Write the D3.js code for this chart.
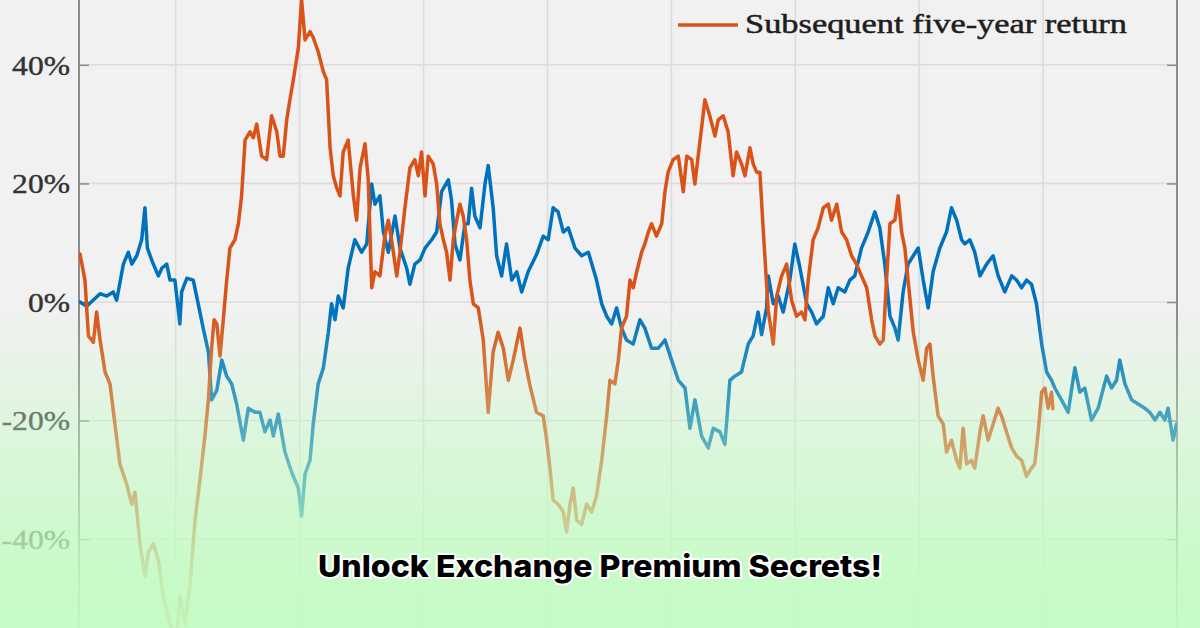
<!DOCTYPE html>
<html><head><meta charset="utf-8">
<script src="https://cdn.jsdelivr.net/npm/d3@7"></script>
<style>html,body{margin:0;padding:0;background:#f1f1f1;}svg{display:block}</style>
</head><body>
<svg id="chart" width="1200" height="628"></svg>
<script>
// ---- data ----
const blueDates = [1981.14,1981.41,1981.95,1982.22,1982.48,1982.62,1982.89,1983.09,1983.23,1983.43,1983.63,1983.76,1983.86,1984.03,1984.30,1984.44,1984.64,1984.77,1984.97,1985.17,1985.24,1985.45,1985.71,1985.91,1986.11,1986.32,1986.45,1986.66,1986.86,1987.06,1987.26,1987.46,1987.73,1987.93,1988.20,1988.40,1988.60,1988.81,1988.94,1989.14,1989.41,1989.68,1989.95,1990.08,1990.22,1990.42,1990.55,1990.75,1990.96,1991.16,1991.29,1991.43,1991.56,1991.76,1991.96,1992.23,1992.50,1992.71,1992.91,1993.04,1993.24,1993.38,1993.58,1993.85,1994.05,1994.32,1994.45,1994.65,1994.86,1995.06,1995.33,1995.53,1995.73,1996.00,1996.13,1996.27,1996.47,1996.67,1996.80,1996.94,1997.07,1997.28,1997.48,1997.61,1997.81,1997.95,1998.15,1998.35,1998.56,1998.76,1998.96,1999.22,1999.56,1999.83,2000.03,2000.23,2000.43,2000.64,2000.84,2001.11,2001.38,2001.65,2001.98,2002.19,2002.39,2002.59,2002.79,2002.99,2003.19,2003.46,2003.73,2003.93,2004.20,2004.47,2004.74,2005.01,2005.28,2005.55,2005.75,2005.95,2006.22,2006.49,2006.69,2006.96,2007.16,2007.36,2007.56,2007.83,2008.10,2008.30,2008.50,2008.64,2008.84,2008.91,2009.11,2009.31,2009.51,2009.78,2009.98,2010.19,2010.46,2010.66,2010.86,2011.13,2011.33,2011.53,2011.73,2012.00,2012.20,2012.40,2012.67,2012.94,2013.21,2013.41,2013.61,2013.82,2014.02,2014.15,2014.35,2014.55,2014.76,2014.96,2015.16,2015.36,2015.56,2015.83,2016.10,2016.30,2016.51,2016.71,2016.84,2017.04,2017.24,2017.45,2017.72,2017.98,2018.18,2018.45,2018.73,2018.93,2019.13,2019.33,2019.53,2019.73,2019.94,2020.14,2020.34,2020.47,2020.74,2021.01,2021.28,2021.48,2021.68,2021.95,2022.22,2022.56,2022.76,2022.96,2023.09,2023.30,2023.57,2023.83,2024.10,2024.30,2024.51,2024.71,2024.91,2025.04,2025.24,2025.38];
const blueValues = [0,-0.7,1.4,1.0,1.7,0.3,6.4,8.4,6.4,7.8,10.5,15.9,9.1,7.1,4.4,5.7,6.4,3.7,3.7,-3.7,1.7,4.0,3.7,-0.3,-4.4,-8.4,-16.5,-14.9,-9.8,-12.5,-13.8,-17.2,-23.3,-17.9,-18.6,-18.6,-21.9,-19.9,-22.6,-18.9,-25.3,-28.7,-31.4,-36.1,-29.0,-26.7,-20.6,-13.8,-11.1,-5.1,-0.3,-3.0,1.0,-1.0,5.7,10.5,8.4,9.8,19.9,16.5,17.9,11.8,8.4,14.5,9.1,5.7,3.0,6.4,7.1,9.1,10.5,11.8,18.6,20.6,17.2,9.8,7.1,13.2,13.2,19.2,14.5,12.5,19.9,23.0,15.9,7.8,4.4,9.8,3.7,5.1,1.7,5.1,8.0,11.1,10.5,15.9,15.2,11.8,12.5,9.1,7.8,8.4,3.7,-0.3,-2.4,-3.7,-1.0,-4.4,-6.4,-7.1,-3.0,-4.4,-7.8,-7.8,-6.4,-9.8,-13.2,-14.5,-21.3,-16.5,-22.6,-24.6,-21.3,-21.9,-24.0,-13.2,-12.5,-11.8,-7.1,-5.7,-1.7,-5.5,-1.0,4.4,-0.3,1.0,-1.7,3.7,9.8,5.7,-0.3,-1.7,-3.7,-2.4,2.4,-0.3,2.4,1.7,3.7,4.4,9.1,11.8,15.2,12.5,6.4,-2.4,-4.4,-6.4,1.7,6.4,7.8,9.1,3.7,-1.0,5.1,9.1,11.8,15.9,13.8,10.5,9.8,10.5,8.4,4.4,6.4,7.8,4.5,1.7,4.4,3.7,2.4,3.7,3.0,-0.3,-7.1,-11.8,-13.2,-14.5,-16.5,-18.6,-11.1,-15.2,-14.5,-19.9,-17.9,-12.5,-14.5,-13.2,-9.8,-13.8,-16.5,-17.2,-17.9,-18.6,-19.9,-18.6,-19.9,-17.9,-23.3,-20.6];

const orangeDates = [1981.14,1981.34,1981.48,1981.68,1981.81,1981.95,1982.15,1982.35,1982.55,1982.75,1983.02,1983.23,1983.36,1983.56,1983.76,1983.90,1984.10,1984.30,1984.50,1984.77,1985.04,1985.17,1985.38,1985.58,1985.78,1985.98,1986.18,1986.32,1986.45,1986.55,1986.66,1986.79,1986.92,1987.06,1987.19,1987.39,1987.53,1987.66,1987.80,1988.00,1988.13,1988.27,1988.47,1988.67,1988.87,1989.08,1989.21,1989.34,1989.48,1989.61,1989.75,1989.95,1990.08,1990.22,1990.42,1990.55,1990.75,1990.96,1991.09,1991.23,1991.36,1991.50,1991.63,1991.76,1991.96,1992.17,1992.30,1992.44,1992.64,1992.77,1992.91,1993.04,1993.24,1993.44,1993.58,1993.71,1993.92,1994.05,1994.25,1994.45,1994.65,1994.79,1994.92,1995.06,1995.19,1995.39,1995.53,1995.66,1995.80,1995.93,1996.07,1996.20,1996.34,1996.47,1996.60,1996.74,1996.87,1997.01,1997.21,1997.41,1997.61,1997.81,1998.01,1998.22,1998.42,1998.62,1998.89,1999.09,1999.29,1999.56,1999.83,1999.97,2000.10,2000.23,2000.43,2000.64,2000.77,2000.91,2001.04,2001.18,2001.38,2001.58,2001.78,2001.98,2002.19,2002.39,2002.52,2002.72,2002.86,2002.99,2003.19,2003.33,2003.46,2003.60,2003.80,2003.93,2004.07,2004.20,2004.40,2004.61,2004.74,2004.87,2005.07,2005.28,2005.48,2005.62,2005.82,2005.95,2006.08,2006.22,2006.35,2006.55,2006.76,2006.89,2007.09,2007.29,2007.49,2007.63,2007.83,2007.97,2008.17,2008.30,2008.44,2008.57,2008.73,2008.91,2009.11,2009.25,2009.45,2009.65,2009.85,2010.05,2010.25,2010.39,2010.52,2010.72,2010.92,2011.13,2011.33,2011.46,2011.67,2011.87,2012.07,2012.27,2012.47,2012.67,2012.88,2013.08,2013.21,2013.41,2013.55,2013.68,2013.82,2014.02,2014.15,2014.29,2014.42,2014.55,2014.76,2014.96,2015.16,2015.30,2015.43,2015.56,2015.76,2015.97,2016.10,2016.30,2016.51,2016.64,2016.77,2016.91,2017.11,2017.24,2017.45,2017.58,2017.78,2017.98,2018.18,2018.32,2018.52,2018.73,2018.93,2019.13,2019.33,2019.53,2019.66,2019.80,2019.94,2020.07,2020.20,2020.34,2020.39];
const orangeValues = [8.1,3.7,-5.7,-6.8,-1.7,-6.4,-11.8,-13.8,-20.6,-27.3,-30.7,-34.1,-32.1,-40.8,-46.2,-42.2,-40.8,-43.5,-49.6,-54.3,-57.0,-49.6,-54.3,-47.6,-36.8,-30.0,-22.6,-16.5,-7.8,-3.0,-3.7,-9.1,-3.0,3.7,9.1,10.5,13.2,17.9,27.3,28.7,27.7,30.0,24.6,24.0,31.4,28.7,24.6,24.6,30.7,34.1,37.5,42.9,51.0,44.2,45.6,44.6,42.2,38.8,37.5,26.0,21.3,19.2,17.9,25.3,27.3,17.9,13.8,22.6,26.7,20.6,2.4,5.1,4.4,11.1,13.8,10.5,4.4,8.4,15.9,22.6,24.0,21.3,25.3,17.9,24.6,23.3,19.9,13.2,10.5,8.4,3.7,10.5,13.8,16.5,14.5,10.5,3.7,-0.3,-1.0,-6.4,-18.6,-8.4,-5.1,-7.8,-13.2,-9.8,-4.4,-9.8,-14.0,-18.6,-19.2,-23.3,-28.0,-33.4,-34.1,-35.4,-38.8,-34.1,-31.4,-36.8,-37.5,-34.1,-35.4,-32.7,-26.7,-19.2,-13.2,-13.8,-9.8,-4.4,-2.4,3.7,2.4,5.1,8.4,9.8,11.8,13.2,11.1,13.2,18.6,21.9,24.0,24.6,18.6,24.6,24.0,19.9,24.6,29.4,34.1,31.4,28.0,30.7,31.4,28.7,21.3,25.3,23.3,21.3,26.0,23.3,21.9,21.9,10.5,-1.5,-7.1,1.0,4.4,6.4,0.3,-2.4,-1.7,-3.0,3.7,10.5,12.5,15.9,16.5,13.8,16.5,11.8,10.5,7.8,6.4,4.4,2.4,-3.0,-5.7,-7.1,-6.4,3.7,13.2,13.8,17.9,11.8,9.1,3.7,-5.1,-9.8,-13.2,-7.8,-7.1,-12.5,-19.2,-20.6,-25.3,-23.3,-26.7,-28.0,-21.3,-27.3,-26.7,-28.0,-21.9,-19.2,-23.3,-20.6,-17.9,-19.2,-21.9,-24.6,-26.0,-26.7,-29.4,-28.0,-27.3,-21.9,-15.2,-14.5,-17.9,-15.2,-18.0];

const yTickValues = [-40, -20, 0, 20, 40];
const xGridYears = [1985, 1990, 1995, 2000, 2005, 2010, 2015, 2020];
const seriesColors = ["#0072BD", "#D95319"];
const legendLabel = "Subsequent five-year return";
const titleText = "Unlock Exchange Premium Secrets!";

// ---- layout ----
const W = 1200, H = 628;
const left = 79, right = 1177;
const svg = d3.select("#chart");
const x = d3.scaleLinear().domain([1981.1, 2025.4]).range([left, right]);
const y = d3.scaleLinear().domain([-54.97, 50.93]).range([H, 0]);

const defs = svg.append("defs");
defs.append("clipPath").attr("id", "plotclip")
  .append("rect").attr("x", left).attr("y", 0).attr("width", right - left).attr("height", H);
const grad = defs.append("linearGradient").attr("id", "fade")
  .attr("gradientUnits", "userSpaceOnUse").attr("x1", 0).attr("y1", 0).attr("x2", 0).attr("y2", H);
grad.append("stop").attr("offset", 0.49).attr("stop-color", "#c2fcc2").attr("stop-opacity", 0);
grad.append("stop").attr("offset", 0.75).attr("stop-color", "#c2fcc2").attr("stop-opacity", 0.55);
grad.append("stop").attr("offset", 0.93).attr("stop-color", "#c2fcc2").attr("stop-opacity", 0.9);
grad.append("stop").attr("offset", 1).attr("stop-color", "#c2fcc2").attr("stop-opacity", 0.93);

svg.append("rect").attr("width", W).attr("height", H).attr("fill", "#f1f1f1");

// grid
const grid = svg.append("g").attr("stroke", "#dcdcdc").attr("stroke-width", 1.6);
grid.selectAll("line.h").data(yTickValues).join("line").attr("class", "h")
  .attr("x1", left).attr("x2", right).attr("y1", d => y(d)).attr("y2", d => y(d));
grid.selectAll("line.v").data(xGridYears).join("line").attr("class", "v")
  .attr("x1", d => x(d)).attr("x2", d => x(d)).attr("y1", 0).attr("y2", H);

// axes
const yAxisL = d3.axisLeft(y).tickValues(yTickValues).tickSize(-10).tickPadding(9).tickFormat(d => d + "%");
const gL = svg.append("g").attr("transform", `translate(${left},0)`).call(yAxisL);
gL.select(".domain").remove();
gL.selectAll(".tick line").attr("stroke", "#8c8c8c").attr("stroke-width", 1.5);
gL.selectAll(".tick text")
  .attr("font-family", "'Liberation Serif', 'DejaVu Serif', serif")
  .attr("font-size", 27).attr("fill", "#333").attr("stroke", "#333").attr("stroke-width", 0.4)
  .attr("x", 0).attr("dy", "0.34em")
  .attr("transform", "translate(-9,0) scale(1.17,1)");
const yAxisR = d3.axisRight(y).tickValues(yTickValues).tickSize(-10).tickFormat("");
const gR = svg.append("g").attr("transform", `translate(${right},0)`).call(yAxisR);
gR.select(".domain").remove();
gR.selectAll(".tick line").attr("stroke", "#8c8c8c").attr("stroke-width", 1.5);
svg.append("line").attr("x1", left).attr("x2", left).attr("y1", 0).attr("y2", H)
  .attr("stroke", "#8c8c8c").attr("stroke-width", 2);
svg.append("line").attr("x1", right).attr("x2", right).attr("y1", 0).attr("y2", H)
  .attr("stroke", "#8c8c8c").attr("stroke-width", 2);

// series
const line = d3.line().x(d => x(d[0])).y(d => y(d[1]));
const plot = svg.append("g").attr("clip-path", "url(#plotclip)");
const blueData = blueDates.map((d, i) => [d, blueValues[i]]);
const orangeData = orangeDates.map((d, i) => [d, orangeValues[i]]);
[blueData, orangeData].forEach((data, i) => {
  plot.append("path").datum(data).attr("d", line)
    .attr("fill", "none").attr("stroke", seriesColors[i]).attr("stroke-width", 3.5)
    .attr("stroke-linejoin", "round").attr("stroke-linecap", "round");
});

// legend (only the second entry is inside the picture)
const legend = svg.append("g");
legend.append("line").attr("x1", 678).attr("x2", 738).attr("y1", 25).attr("y2", 25)
  .attr("stroke", seriesColors[1]).attr("stroke-width", 3.5);
legend.append("text").attr("x", 745).attr("y", 33).text(legendLabel)
  .attr("font-family", "'Liberation Serif', 'DejaVu Serif', serif").attr("font-size", 28)
  .attr("fill", "#1e1e1e").attr("stroke", "#1e1e1e").attr("stroke-width", 0.5)
  .attr("textLength", 382).attr("lengthAdjust", "spacingAndGlyphs");

// fade overlay
svg.append("rect").attr("width", W).attr("height", H).attr("fill", "url(#fade)");

// title
svg.append("text").attr("x", 600).attr("y", 577).attr("text-anchor", "middle")
  .attr("font-family", "Inter, 'Open Sans', sans-serif").attr("font-weight", 800).attr("font-size", 30)
  .attr("fill", "#000").attr("stroke", "#fff").attr("stroke-width", 4).attr("stroke-linejoin", "round")
  .attr("paint-order", "stroke").attr("textLength", 564).attr("lengthAdjust", "spacingAndGlyphs")
  .text(titleText);
</script>
</body></html>
